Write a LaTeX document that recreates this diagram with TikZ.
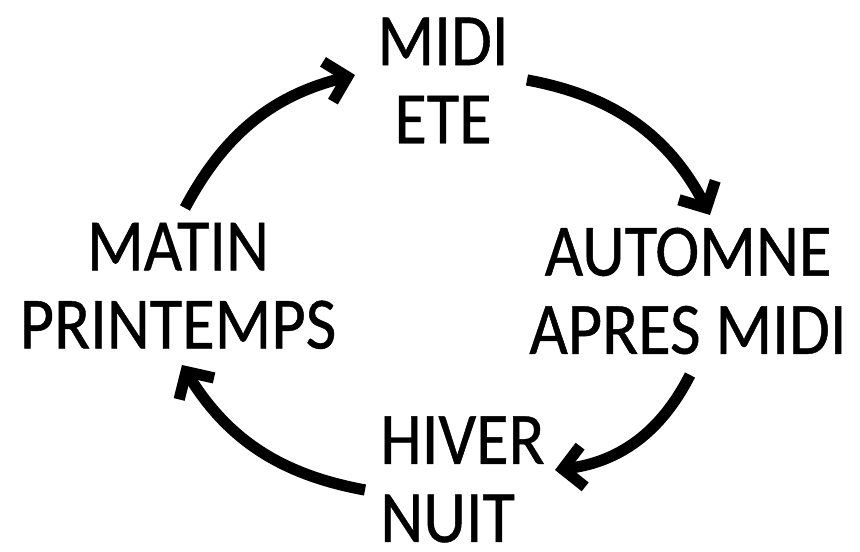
\documentclass[tikz,border=0pt]{standalone}
\usepackage{fontspec}
\setmainfont{Carlito}[FakeStretch=0.9,FakeBold=0.6]
\usepackage{tikz}
\usetikzlibrary{arrows.meta}

\begin{document}
\begin{tikzpicture}[
  lbl/.style={align=center,inner sep=0pt,font=\fontsize{42}{44.5}\selectfont},
  cyc/.style={line width=6.4pt,-{Straight Barb[length=4mm,width=8.2mm,line cap=butt]}}]
\useasboundingbox (0,0) rectangle (17.2,11.04);
\node[lbl] (ete) at (8.86,9.43) {MIDI\\ETE};
\node[lbl] (automne) at (13.76,5.22) {AUTOMNE\\APRES MIDI};
\node[lbl,align=left] (hiver) at (9.25,1.45) {HIVER\\NUIT};
\node[lbl] (matin) at (3.56,5.32) {MATIN\\PRINTEMPS};
% arrow ends round the cycle
\coordinate (a1) at (3.70,6.88); \coordinate (b1) at (7.10,9.54);
\coordinate (a2) at (10.54,9.44); \coordinate (b2) at (14.20,6.74);
\coordinate (a3) at (13.80,3.54); \coordinate (b3) at (11.10,1.64);
\coordinate (a4) at (7.30,1.24); \coordinate (b4) at (3.64,3.74);
\draw[cyc] (a1) to[bend left=24] (b1);
\draw[cyc] (a2) to[bend left=26] (b2);
\draw[cyc] (a3) to[bend left=28] (b3);
\draw[cyc] (a4) to[bend left=24] (b4);
\end{tikzpicture}
\end{document}
